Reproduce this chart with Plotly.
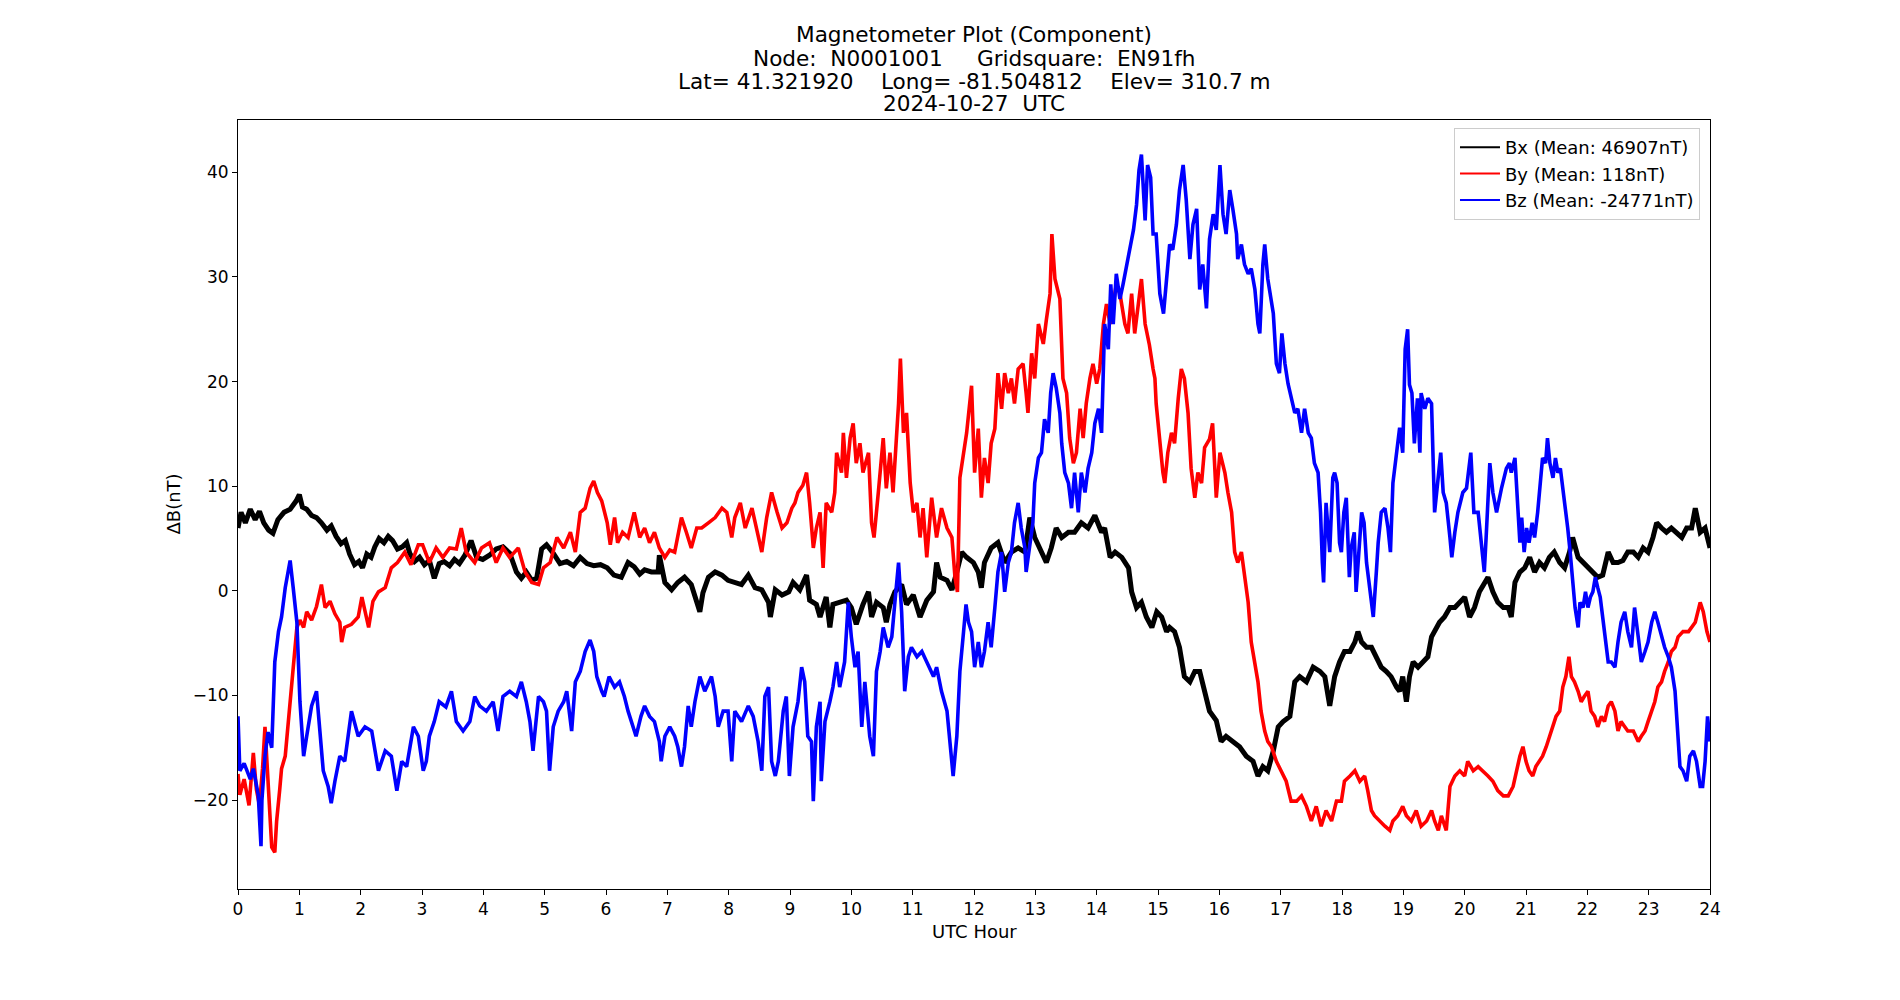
import plotly.graph_objects as go

# ---- data (hour, delta nT) ----
bx_points = [
(0.0, 6.0), (0.05, 7.5), (0.12, 6.5), (0.2, 7.8), (0.28, 6.8), (0.35, 7.6), (0.42, 6.5), (0.5, 5.8), (0.57, 5.5), (0.65, 6.8),
(0.75, 7.5), (0.85, 7.8), (0.95, 8.6), (1.0, 9.2), (1.05, 8.0), (1.12, 7.8), (1.2, 7.2), (1.28, 7.0), (1.36, 6.5), (1.45, 5.8),
(1.52, 6.2), (1.6, 5.2), (1.68, 4.5), (1.75, 4.8), (1.82, 3.5), (1.9, 2.5), (1.97, 2.8), (2.03, 2.2), (2.1, 3.5), (2.17, 3.2),
(2.23, 4.2), (2.3, 5.0), (2.38, 4.6), (2.45, 5.2), (2.52, 4.8), (2.6, 4.0), (2.68, 4.2), (2.75, 4.6), (2.8, 3.6), (2.88, 2.8),
(2.96, 3.2), (3.04, 2.5), (3.12, 2.9), (3.2, 1.2), (3.28, 2.6), (3.36, 2.8), (3.45, 2.4), (3.53, 3.0), (3.61, 2.6), (3.7, 3.4),
(3.8, 4.8), (3.89, 3.2), (3.99, 3.0), (4.1, 3.4), (4.21, 4.0), (4.32, 4.2), (4.43, 3.6), (4.54, 1.8), (4.62, 1.2), (4.7, 1.8),
(4.79, 1.0), (4.87, 1.2), (4.95, 4.0), (5.03, 4.4), (5.14, 3.6), (5.25, 2.6), (5.36, 2.8), (5.47, 2.4), (5.58, 3.2), (5.69, 2.6),
(5.8, 2.4), (5.91, 2.5), (6.02, 2.2), (6.13, 1.5), (6.25, 1.3), (6.36, 2.7), (6.46, 2.3), (6.55, 1.6), (6.63, 2.0), (6.74, 1.8),
(6.85, 1.8), (6.87, 3.4), (6.96, 0.8), (7.07, 0.1), (7.17, 0.8), (7.28, 1.3), (7.39, 0.6), (7.48, -1.3), (7.53, -2.0), (7.58, -0.2),
(7.67, 1.3), (7.78, 1.8), (7.89, 1.5), (7.99, 1.0), (8.1, 0.8), (8.21, 0.6), (8.32, 1.5), (8.43, 0.3), (8.54, 0.1), (8.65, -1.1),
(8.68, -2.5), (8.76, 0.1), (8.87, -0.4), (8.98, -0.1), (9.05, 0.8), (9.16, 0.1), (9.27, 1.5), (9.32, -0.9), (9.43, -1.3), (9.49, -2.5),
(9.59, -0.6), (9.65, -3.5), (9.7, -1.3), (9.81, -1.1), (9.92, -0.9), (10.0, -1.6), (10.08, -3.2), (10.19, -1.3), (10.28, -0.1), (10.33, -2.5),
(10.41, -1.1), (10.52, -1.6), (10.57, -3.0), (10.63, -1.3), (10.71, -0.1), (10.82, 0.6), (10.9, -1.3), (11.01, -0.4), (11.12, -2.5), (11.23, -0.9),
(11.34, -0.1), (11.39, 2.7), (11.45, 1.3), (11.56, 1.0), (11.64, 0.1), (11.72, 1.8), (11.8, 3.7), (11.88, 3.2), (11.99, 2.7), (12.07, 1.8),
(12.12, 0.3), (12.17, 2.7), (12.28, 4.1), (12.39, 4.6), (12.5, 2.7), (12.61, 3.7), (12.72, 4.1), (12.83, 3.7), (12.91, 7.0), (12.99, 5.1),
(13.1, 3.7), (13.18, 2.7), (13.26, 4.1), (13.34, 6.0), (13.43, 5.1), (13.54, 5.6), (13.64, 5.6), (13.75, 6.5), (13.86, 6.0), (13.97, 7.2),
(14.08, 5.6), (14.13, 6.0), (14.22, 3.2), (14.3, 3.7), (14.41, 3.2), (14.52, 2.2), (14.57, -0.1), (14.65, -1.6), (14.73, -1.1), (14.81, -2.5),
(14.9, -3.5), (14.98, -2.0), (15.06, -2.5), (15.14, -3.9), (15.19, -3.5), (15.27, -3.9), (15.35, -5.4), (15.43, -8.2), (15.52, -8.7), (15.6, -7.7),
(15.68, -7.7), (15.76, -9.6), (15.84, -11.5), (15.95, -12.4), (16.03, -14.4), (16.11, -13.9), (16.22, -14.4), (16.33, -14.9), (16.44, -15.8), (16.55, -16.3),
(16.63, -17.7), (16.71, -16.8), (16.79, -17.2), (16.88, -15.3), (16.96, -13.0), (17.04, -12.5), (17.15, -12.0), (17.23, -8.7), (17.31, -8.2), (17.42, -8.7),
(17.53, -7.3), (17.64, -7.7), (17.72, -8.2), (17.8, -11.0), (17.88, -8.2), (17.96, -6.8), (18.04, -5.8), (18.13, -5.8), (18.21, -4.9), (18.26, -3.9),
(18.32, -4.9), (18.4, -5.4), (18.48, -5.4), (18.56, -6.3), (18.64, -7.3), (18.72, -7.7), (18.8, -8.2), (18.89, -9.2), (18.94, -9.6), (18.99, -8.2),
(19.05, -10.6), (19.1, -8.2), (19.16, -6.8), (19.24, -7.3), (19.32, -6.8), (19.4, -6.3), (19.46, -4.4), (19.51, -3.9), (19.59, -3.0), (19.67, -2.5),
(19.76, -1.6), (19.84, -1.6), (19.92, -1.1), (20.0, -0.6), (20.08, -2.5), (20.16, -1.6), (20.24, -0.1), (20.33, 0.8), (20.38, 1.3), (20.46, -0.1),
(20.54, -1.1), (20.63, -1.6), (20.71, -1.6), (20.76, -2.5), (20.82, 0.8), (20.9, 1.8), (20.98, 2.2), (21.06, 3.2), (21.14, 1.8), (21.22, 2.7),
(21.3, 2.2), (21.38, 3.2), (21.46, 3.7), (21.55, 2.7), (21.63, 2.2), (21.71, 3.7), (21.76, 5.1), (21.85, 3.2), (21.93, 2.7), (22.01, 2.2),
(22.09, 1.8), (22.17, 1.3), (22.25, 1.5), (22.34, 3.7), (22.42, 2.7), (22.5, 2.7), (22.58, 2.9), (22.66, 3.7), (22.75, 3.7), (22.83, 3.2),
(22.91, 4.1), (22.99, 3.7), (23.07, 5.1), (23.13, 6.5), (23.21, 6.0), (23.29, 5.6), (23.37, 6.0), (23.45, 5.6), (23.54, 5.1), (23.62, 6.0),
(23.7, 6.0), (23.76, 7.9), (23.84, 5.6), (23.92, 6.0), (23.97, 4.6), (24.0, 4.1),
]

by_points = [
(0.0, -17.5), (0.03, -19.5), (0.1, -18.0), (0.18, -20.5), (0.25, -15.5), (0.3, -19.0), (0.35, -20.5), (0.4, -17.0), (0.44, -13.0), (0.49, -19.0),
(0.55, -24.5), (0.6, -25.0), (0.63, -22.0), (0.68, -19.0), (0.71, -17.0), (0.77, -15.8), (0.85, -11.0), (0.93, -5.8), (0.96, -3.5), (1.01, -2.8),
(1.07, -3.5), (1.12, -2.0), (1.2, -2.8), (1.28, -1.5), (1.36, 0.6), (1.42, -1.6), (1.5, -1.0), (1.58, -2.2), (1.66, -3.0), (1.69, -4.9),
(1.74, -3.5), (1.85, -3.2), (1.96, -2.5), (2.02, -0.6), (2.07, -2.0), (2.13, -3.5), (2.2, -1.0), (2.29, -0.1), (2.4, 0.3), (2.5, 2.2),
(2.6, 2.7), (2.72, 3.7), (2.82, 2.5), (2.94, 4.4), (3.01, 4.4), (3.12, 2.7), (3.23, 4.1), (3.34, 3.2), (3.45, 4.1), (3.56, 4.0),
(3.64, 6.0), (3.72, 3.7), (3.86, 2.7), (3.97, 4.1), (4.1, 4.6), (4.21, 2.7), (4.32, 4.1), (4.43, 3.2), (4.57, 4.1), (4.68, 1.8),
(4.79, 0.8), (4.9, 0.6), (4.98, 2.2), (5.09, 2.7), (5.2, 5.1), (5.31, 4.1), (5.42, 5.6), (5.5, 3.7), (5.58, 7.5), (5.66, 7.9),
(5.74, 9.8), (5.8, 10.5), (5.86, 9.4), (5.93, 8.6), (6.02, 6.5), (6.07, 4.4), (6.14, 7.0), (6.19, 4.6), (6.27, 5.6), (6.36, 5.1),
(6.46, 7.5), (6.55, 5.1), (6.63, 6.0), (6.71, 4.6), (6.79, 5.6), (6.87, 4.1), (6.96, 3.2), (7.04, 3.9), (7.12, 3.7), (7.23, 7.0),
(7.31, 5.6), (7.39, 4.1), (7.48, 6.0), (7.56, 6.0), (7.67, 6.5), (7.78, 7.0), (7.89, 7.9), (7.97, 7.5), (8.05, 5.1), (8.1, 7.0),
(8.19, 8.4), (8.27, 6.0), (8.38, 7.9), (8.46, 5.6), (8.54, 3.7), (8.62, 7.0), (8.7, 9.4), (8.79, 7.5), (8.87, 6.0), (8.95, 6.5),
(9.03, 7.9), (9.08, 8.4), (9.13, 9.4), (9.21, 10.1), (9.27, 11.3), (9.32, 8.4), (9.38, 4.1), (9.43, 6.0), (9.49, 7.5), (9.54, 2.2),
(9.59, 8.4), (9.68, 7.5), (9.73, 9.4), (9.76, 13.2), (9.84, 11.3), (9.87, 15.1), (9.92, 10.8), (9.98, 14.6), (10.03, 16.0), (10.08, 12.2),
(10.14, 14.1), (10.19, 11.3), (10.28, 13.2), (10.33, 6.5), (10.37, 5.1), (10.44, 9.4), (10.52, 14.6), (10.57, 9.8), (10.63, 13.2), (10.68, 9.4),
(10.74, 15.1), (10.77, 17.9), (10.8, 22.2), (10.85, 15.1), (10.9, 17.0), (10.96, 10.3), (11.01, 7.5), (11.07, 8.4), (11.12, 5.1), (11.17, 7.9),
(11.23, 3.2), (11.31, 8.9), (11.39, 5.1), (11.47, 7.9), (11.56, 6.0), (11.64, 5.1), (11.69, 1.3), (11.73, -0.1), (11.77, 10.8), (11.83, 13.2),
(11.88, 15.1), (11.96, 19.6), (12.01, 11.3), (12.07, 15.5), (12.12, 8.9), (12.17, 12.7), (12.23, 10.3), (12.28, 14.1), (12.34, 15.5), (12.39, 20.8),
(12.45, 17.4), (12.5, 20.8), (12.56, 18.9), (12.61, 20.3), (12.66, 17.9), (12.72, 21.2), (12.8, 21.7), (12.85, 18.9), (12.88, 17.0), (12.94, 22.7),
(12.99, 20.3), (13.05, 25.5), (13.13, 23.6), (13.18, 25.9), (13.24, 28.4), (13.27, 34.1), (13.32, 29.8), (13.4, 27.9), (13.45, 20.3), (13.51, 18.9),
(13.56, 14.6), (13.62, 12.2), (13.67, 13.2), (13.73, 17.4), (13.78, 14.6), (13.83, 17.9), (13.89, 20.3), (13.94, 21.7), (14.0, 19.8), (14.05, 21.2),
(14.11, 25.5), (14.16, 27.4), (14.22, 25.5), (14.27, 27.4), (14.32, 29.3), (14.38, 28.4), (14.46, 25.5), (14.51, 24.6), (14.57, 28.4), (14.62, 24.6),
(14.68, 27.4), (14.73, 29.8), (14.79, 25.5), (14.86, 23.5), (14.92, 21.2), (14.95, 20.3), (14.97, 17.9), (15.03, 14.1), (15.08, 11.3), (15.11, 10.3),
(15.16, 13.2), (15.22, 15.1), (15.27, 14.1), (15.33, 18.4), (15.38, 21.2), (15.43, 20.3), (15.49, 17.0), (15.54, 11.7), (15.6, 8.9), (15.65, 11.3),
(15.71, 10.3), (15.76, 13.7), (15.84, 14.5), (15.89, 16.0), (15.92, 12.2), (15.95, 8.9), (16.01, 13.2), (16.09, 11.3), (16.14, 9.4), (16.2, 7.5),
(16.25, 3.7), (16.3, 2.7), (16.36, 3.7), (16.41, 1.3), (16.47, -1.1), (16.52, -4.9), (16.58, -6.8), (16.63, -8.7), (16.68, -11.5), (16.74, -13.4),
(16.79, -14.4), (16.85, -14.9), (16.93, -16.3), (17.01, -17.2), (17.09, -18.2), (17.17, -20.1), (17.26, -20.1), (17.34, -19.6), (17.42, -20.6), (17.5, -22.0),
(17.58, -20.6), (17.66, -22.5), (17.74, -21.0), (17.83, -22.0), (17.91, -20.1), (17.99, -20.1), (18.04, -18.2), (18.13, -17.7), (18.21, -17.2), (18.29, -18.2),
(18.37, -17.7), (18.42, -19.1), (18.48, -21.0), (18.53, -21.5), (18.61, -22.0), (18.7, -22.5), (18.78, -22.9), (18.83, -22.0), (18.91, -21.5), (18.99, -20.6),
(19.05, -21.5), (19.13, -22.0), (19.21, -21.0), (19.29, -22.5), (19.38, -22.0), (19.46, -21.0), (19.51, -22.0), (19.57, -22.9), (19.62, -21.5), (19.7, -22.9),
(19.76, -18.7), (19.84, -17.7), (19.92, -17.2), (20.0, -17.7), (20.05, -16.3), (20.14, -17.2), (20.22, -16.8), (20.3, -17.2), (20.38, -17.7), (20.46, -18.2),
(20.54, -19.1), (20.63, -19.6), (20.71, -19.6), (20.79, -18.7), (20.84, -17.2), (20.9, -15.8), (20.95, -14.9), (21.0, -16.3), (21.05, -17.2), (21.11, -17.7),
(21.16, -16.8), (21.22, -16.3), (21.27, -15.8), (21.33, -14.9), (21.38, -13.9), (21.44, -13.0), (21.49, -12.0), (21.55, -11.5), (21.6, -9.2), (21.65, -8.2),
(21.7, -6.3), (21.74, -8.2), (21.79, -8.7), (21.85, -9.6), (21.9, -10.6), (21.95, -10.1), (22.01, -9.6), (22.06, -11.5), (22.12, -12.0), (22.17, -13.0),
(22.23, -12.0), (22.28, -12.5), (22.34, -11.0), (22.39, -10.6), (22.45, -11.5), (22.5, -13.4), (22.55, -12.5), (22.61, -13.0), (22.66, -13.4), (22.75, -13.4),
(22.83, -14.4), (22.88, -13.9), (22.94, -13.4), (22.99, -12.5), (23.05, -11.5), (23.1, -10.6), (23.15, -9.2), (23.21, -8.7), (23.26, -7.7), (23.32, -6.8),
(23.37, -5.8), (23.43, -5.4), (23.48, -4.4), (23.56, -3.9), (23.65, -3.9), (23.7, -3.5), (23.76, -3.0), (23.84, -1.1), (23.89, -2.0), (23.95, -3.9),
(24.0, -4.9),
]

bz_points = [
(0.0, -12.0), (0.03, -17.2), (0.1, -16.5), (0.2, -18.0), (0.25, -17.0), (0.33, -19.5), (0.375, -24.4), (0.39, -20.0), (0.44, -15.8), (0.49, -13.5),
(0.55, -15.0), (0.6, -6.8), (0.66, -3.9), (0.71, -2.5), (0.77, 0.3), (0.85, 2.9), (0.9, 0.3), (0.96, -3.0), (1.01, -10.6), (1.07, -15.8),
(1.12, -13.9), (1.2, -11.0), (1.28, -9.6), (1.34, -13.4), (1.39, -17.2), (1.47, -18.7), (1.52, -20.3), (1.58, -18.2), (1.66, -15.8), (1.74, -16.3),
(1.85, -11.5), (1.96, -13.9), (2.07, -13.0), (2.18, -13.4), (2.29, -17.2), (2.4, -15.3), (2.5, -15.8), (2.59, -19.1), (2.67, -16.3), (2.75, -16.8),
(2.86, -13.0), (2.94, -13.9), (2.99, -16.3), (3.02, -17.2), (3.07, -16.3), (3.12, -13.9), (3.2, -12.5), (3.28, -10.6), (3.39, -11.1), (3.48, -9.6),
(3.56, -12.5), (3.67, -13.4), (3.78, -12.5), (3.86, -10.1), (3.94, -11.0), (4.05, -11.5), (4.16, -10.6), (4.24, -13.4), (4.32, -10.1), (4.43, -9.6),
(4.54, -10.1), (4.62, -8.7), (4.7, -10.6), (4.76, -12.5), (4.81, -15.3), (4.9, -10.1), (4.98, -10.6), (5.03, -11.5), (5.08, -17.2), (5.14, -13.0),
(5.22, -11.5), (5.31, -10.6), (5.36, -9.6), (5.44, -13.4), (5.5, -8.7), (5.58, -7.7), (5.66, -5.8), (5.74, -4.7), (5.8, -5.8), (5.85, -8.2),
(5.93, -9.6), (5.97, -10.1), (6.05, -8.2), (6.14, -9.2), (6.22, -8.7), (6.3, -10.1), (6.36, -11.5), (6.44, -13.0), (6.49, -13.9), (6.57, -12.0),
(6.63, -11.0), (6.71, -12.0), (6.79, -12.5), (6.87, -14.4), (6.9, -16.3), (6.96, -13.9), (7.04, -13.0), (7.12, -13.9), (7.17, -14.9), (7.23, -16.8),
(7.28, -14.9), (7.34, -11.0), (7.39, -13.0), (7.45, -10.6), (7.53, -8.2), (7.61, -9.6), (7.72, -8.2), (7.78, -10.1), (7.83, -13.0), (7.91, -11.5),
(7.99, -11.5), (8.05, -16.3), (8.1, -11.5), (8.21, -12.5), (8.32, -11.0), (8.4, -12.0), (8.48, -14.4), (8.54, -17.2), (8.59, -10.1), (8.65, -9.2),
(8.7, -16.3), (8.76, -17.7), (8.81, -16.3), (8.89, -11.5), (8.94, -10.1), (8.99, -17.7), (9.05, -13.0), (9.13, -10.6), (9.19, -7.3), (9.24, -8.7),
(9.29, -13.9), (9.35, -14.4), (9.38, -20.1), (9.43, -13.0), (9.49, -10.6), (9.51, -18.2), (9.57, -12.5), (9.65, -10.6), (9.7, -9.2), (9.76, -6.8),
(9.81, -9.2), (9.89, -6.8), (9.95, -1.1), (10.0, -4.4), (10.06, -7.3), (10.11, -5.8), (10.17, -13.0), (10.22, -8.7), (10.3, -13.9), (10.36, -15.8),
(10.41, -7.7), (10.47, -5.8), (10.52, -3.5), (10.6, -5.4), (10.66, -4.4), (10.71, -1.1), (10.77, 2.7), (10.82, -2.0), (10.87, -9.6), (10.93, -6.3),
(10.98, -5.4), (11.07, -6.3), (11.15, -5.8), (11.23, -6.8), (11.34, -8.2), (11.39, -7.3), (11.47, -9.6), (11.56, -11.5), (11.61, -14.4), (11.66, -17.7),
(11.72, -13.9), (11.77, -7.7), (11.83, -3.9), (11.87, -1.3), (11.91, -3.0), (11.96, -3.9), (12.01, -7.3), (12.07, -4.9), (12.12, -7.3), (12.17, -5.8),
(12.23, -3.0), (12.28, -5.4), (12.34, -1.6), (12.39, 1.8), (12.45, 3.7), (12.5, -0.1), (12.56, 2.7), (12.61, 3.7), (12.66, 6.5), (12.72, 8.4),
(12.77, 6.0), (12.83, 4.1), (12.85, 1.8), (12.91, 4.6), (12.96, 6.5), (12.99, 10.3), (13.05, 12.7), (13.1, 13.2), (13.15, 16.4), (13.21, 15.1),
(13.25, 18.9), (13.29, 20.8), (13.34, 19.4), (13.4, 17.0), (13.43, 14.1), (13.48, 11.3), (13.54, 10.3), (13.59, 7.9), (13.64, 11.3), (13.7, 7.5),
(13.75, 11.3), (13.81, 9.4), (13.86, 11.7), (13.92, 13.2), (13.97, 16.0), (14.03, 17.4), (14.08, 15.1), (14.13, 25.5), (14.19, 23.1), (14.23, 29.3),
(14.27, 25.5), (14.32, 30.3), (14.38, 27.9), (14.43, 29.3), (14.49, 31.2), (14.54, 32.6), (14.6, 34.5), (14.65, 36.9), (14.69, 40.2), (14.73, 41.7),
(14.79, 35.4), (14.83, 40.7), (14.88, 39.5), (14.92, 34.1), (14.97, 34.1), (15.03, 28.4), (15.09, 26.5), (15.14, 29.8), (15.19, 33.1), (15.24, 32.6),
(15.3, 35.0), (15.35, 38.3), (15.41, 40.7), (15.46, 37.4), (15.52, 31.7), (15.57, 35.0), (15.63, 36.5), (15.68, 28.8), (15.73, 31.2), (15.79, 27.0),
(15.84, 33.6), (15.9, 36.0), (15.95, 34.5), (16.01, 40.7), (16.06, 36.0), (16.11, 34.1), (16.17, 38.3), (16.22, 36.5), (16.28, 34.1), (16.3, 31.7),
(16.36, 33.1), (16.41, 31.2), (16.47, 30.3), (16.52, 30.8), (16.58, 28.8), (16.63, 25.5), (16.66, 24.6), (16.71, 31.2), (16.74, 33.1), (16.79, 29.8),
(16.83, 28.4), (16.88, 26.5), (16.93, 21.7), (16.98, 20.8), (17.02, 24.6), (17.07, 21.7), (17.12, 19.8), (17.17, 18.4), (17.23, 17.0), (17.28, 17.4),
(17.34, 15.1), (17.39, 17.4), (17.45, 15.1), (17.5, 14.6), (17.55, 12.2), (17.61, 11.3), (17.65, 7.5), (17.68, 2.7), (17.7, 0.8), (17.74, 8.4),
(17.8, 3.7), (17.85, 10.8), (17.88, 11.3), (17.92, 10.3), (17.96, 4.6), (17.99, 3.7), (18.03, 7.5), (18.07, 8.9), (18.1, 5.1), (18.12, 1.3),
(18.15, 4.1), (18.2, 5.6), (18.23, -0.1), (18.27, 3.7), (18.32, 7.5), (18.36, 6.5), (18.4, 2.7), (18.43, 1.3), (18.48, -1.6), (18.51, -2.5),
(18.56, 1.8), (18.59, 4.6), (18.64, 7.5), (18.7, 7.9), (18.75, 6.0), (18.79, 3.7), (18.83, 10.3), (18.89, 13.2), (18.94, 15.6), (18.99, 13.2),
(19.03, 23.1), (19.07, 25.0), (19.1, 19.7), (19.14, 18.9), (19.18, 14.1), (19.23, 18.4), (19.27, 13.2), (19.29, 18.9), (19.35, 17.4), (19.4, 18.4),
(19.46, 17.9), (19.51, 7.5), (19.57, 11.3), (19.61, 13.2), (19.65, 9.4), (19.7, 8.4), (19.76, 5.1), (19.79, 3.2), (19.84, 5.6), (19.89, 7.5),
(19.97, 9.4), (20.03, 9.8), (20.1, 13.2), (20.15, 7.5), (20.22, 7.5), (20.27, 4.6), (20.32, 1.8), (20.35, 5.1), (20.41, 12.2), (20.46, 9.4),
(20.52, 7.5), (20.6, 9.8), (20.68, 11.7), (20.73, 12.2), (20.76, 11.3), (20.82, 12.7), (20.87, 7.0), (20.9, 4.6), (20.93, 7.0), (20.97, 3.7),
(21.01, 6.0), (21.05, 4.6), (21.1, 6.5), (21.14, 5.1), (21.19, 7.5), (21.23, 10.3), (21.27, 12.7), (21.32, 12.2), (21.35, 14.6), (21.39, 12.2),
(21.44, 10.8), (21.48, 12.7), (21.52, 11.3), (21.56, 11.7), (21.6, 9.8), (21.64, 8.4), (21.68, 6.0), (21.72, 3.7), (21.76, 0.8), (21.8, -1.6),
(21.85, -3.5), (21.88, -1.1), (21.93, -1.6), (21.97, -0.1), (22.01, -1.6), (22.05, -0.6), (22.09, -0.1), (22.13, 1.3), (22.17, 0.3), (22.21, -0.6),
(22.25, -2.5), (22.3, -5.2), (22.34, -6.8), (22.39, -6.8), (22.45, -7.3), (22.5, -4.9), (22.55, -3.0), (22.61, -2.0), (22.66, -3.9), (22.72, -5.4),
(22.77, -1.6), (22.83, -4.4), (22.88, -6.8), (22.94, -5.8), (22.99, -4.9), (23.05, -3.0), (23.1, -2.0), (23.15, -3.0), (23.21, -4.4), (23.26, -5.4),
(23.32, -6.3), (23.37, -7.3), (23.43, -9.6), (23.47, -13.4), (23.51, -16.8), (23.56, -17.2), (23.62, -18.2), (23.67, -15.8), (23.73, -15.3), (23.78, -16.3),
(23.84, -18.7), (23.88, -18.7), (23.92, -16.3), (23.96, -12.0), (24.0, -14.4),
]

bx_hours, bx_values = [p[0] for p in bx_points], [p[1] for p in bx_points]
by_hours, by_values = [p[0] for p in by_points], [p[1] for p in by_points]
bz_hours, bz_values = [p[0] for p in bz_points], [p[1] for p in bz_points]

series_names = ["Bx (Mean: 46907nT)", "By (Mean: 118nT)", "Bz (Mean: -24771nT)"]
series_colors = ["#000000", "#ff0000", "#0000ff"]

title_lines = [
    "Magnetometer Plot (Component)",
    "Node:\u00a0\u00a0N0001001\u00a0\u00a0\u00a0\u00a0\u00a0Gridsquare:\u00a0\u00a0EN91fh",
    "Lat=\u00a041.321920\u00a0\u00a0\u00a0\u00a0Long=\u00a0-81.504812\u00a0\u00a0\u00a0\u00a0Elev=\u00a0310.7\u00a0m",
    "2024-10-27\u00a0\u00a0UTC",
]
x_ticks = list(range(0, 25))
y_ticks = [-20, -10, 0, 10, 20, 30, 40]

FONT = "DejaVu Sans"

fig = go.Figure()
for hrs, vals, name, color, w in [
    (bx_hours, bx_values, series_names[0], series_colors[0], 5.0),
    (by_hours, by_values, series_names[1], series_colors[1], 3.6),
    (bz_hours, bz_values, series_names[2], series_colors[2], 3.6),
]:
    fig.add_trace(go.Scatter(x=hrs, y=vals, mode="lines", name=name, showlegend=False,
                             legendgroup=name, line=dict(color=color, width=w)))
# legend entries drawn with uniform thin line samples (as in the reference)
for name, color in zip(series_names, series_colors):
    fig.add_trace(go.Scatter(x=[None], y=[None], mode="lines", name=name,
                             legendgroup=name, line=dict(color=color, width=2)))

L, R, T, B = 238, 190, 120, 111
plot_h = 1000 - T - B

annotations = []
title_y_px = [35, 58, 81, 103]
for txt, ypx in zip(title_lines, title_y_px):
    annotations.append(dict(text=txt, xref="paper", yref="paper", x=0.5,
                            y=(1000 - B - ypx) / plot_h, xanchor="center", yanchor="middle",
                            showarrow=False, font=dict(family=FONT, size=21.6, color="#000")))
annotations.append(dict(text="UTC Hour", xref="paper", yref="paper", x=0.5,
                        y=(1000 - B - 931) / plot_h, xanchor="center", yanchor="middle",
                        showarrow=False, font=dict(family=FONT, size=18, color="#000")))
annotations.append(dict(text="\u0394B(nT)", xref="paper", yref="paper", x=(173 - L) / (1900 - L - R),
                        y=0.5, xanchor="center", yanchor="middle", textangle=-90,
                        showarrow=False, font=dict(family=FONT, size=18, color="#000")))

axis_common = dict(showgrid=False, zeroline=False, showline=True, linecolor="#000", linewidth=1,
                   mirror=True, ticks="outside", ticklen=5, tickwidth=1, tickcolor="#000",
                   tickfont=dict(family=FONT, size=17, color="#000"))

fig.update_layout(
    width=1900, height=1000, autosize=False,
    margin=dict(l=L, r=R, t=T, b=B),
    paper_bgcolor="white", plot_bgcolor="white",
    font=dict(family=FONT, size=18, color="#000"),
    xaxis=dict(range=[0, 24], tickmode="array", tickvals=x_ticks, **axis_common),
    yaxis=dict(range=[-28.5, 45.0], tickmode="array", tickvals=y_ticks, **axis_common),
    legend=dict(x=0.9932, y=0.9896, xanchor="right", yanchor="top",
                bgcolor="rgba(255,255,255,0.8)", bordercolor="#cccccc", borderwidth=1,
                font=dict(family=FONT, size=18, color="#000"), tracegroupgap=0,
                itemwidth=40),
    annotations=annotations,
    showlegend=True,
)

fig.write_html("out.html")
